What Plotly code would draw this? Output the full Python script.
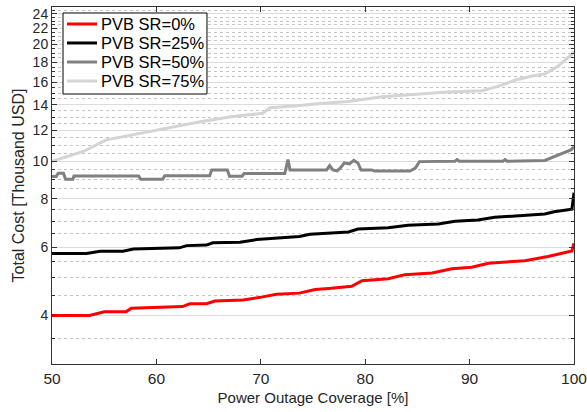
import plotly.graph_objects as go
import numpy as np

# Data
x_sr0 = [50, 53.6, 55.0, 57.1, 57.6, 62.5, 63.2, 64.8, 65.6, 68.3, 70.2, 71.5, 73.7, 75.2, 76.5,
         78.7, 79.7, 82.2, 83.8, 86.4, 88.3, 90.2, 91.8, 95.3, 97.5, 99.8, 100]
y_sr0 = [4.0, 4.0, 4.09, 4.09, 4.18, 4.22, 4.29, 4.29, 4.36, 4.39, 4.47, 4.54, 4.57, 4.67, 4.70,
         4.76, 4.92, 4.98, 5.10, 5.15, 5.28, 5.33, 5.46, 5.54, 5.68, 5.87, 6.15]

x_sr25 = [50, 53.3, 54.6, 56.8, 57.8, 62.2, 62.9, 64.8, 65.4, 68.0, 69.6, 72.1, 73.7, 74.7, 76.5,
          78.4, 79.3, 82.2, 84.1, 87.0, 88.6, 90.8, 92.4, 97.2, 98.1, 99.8, 100]
y_sr25 = [5.78, 5.78, 5.86, 5.86, 5.94, 5.98, 6.06, 6.08, 6.16, 6.18, 6.28, 6.35, 6.40, 6.48, 6.52,
          6.57, 6.69, 6.74, 6.84, 6.89, 7.0, 7.06, 7.17, 7.31, 7.41, 7.52, 8.3]

x_sr50 = [50, 50.4, 50.6, 51.1, 51.3, 52.0, 52.1, 58.3, 58.5, 60.6, 60.8, 65.1, 65.3, 66.8, 67.0,
          68.2, 68.4, 72.3, 72.6, 72.8, 76.3, 76.6, 76.9, 77.3, 77.6, 78.0, 78.5, 78.9, 79.3, 79.6,
          80.6, 80.9, 84.3, 84.8, 85.2, 88.6, 88.8, 89.0, 93.2, 93.4, 93.6, 97.2, 99.7, 100]
y_sr50 = [9.14, 9.14, 9.32, 9.32, 8.99, 8.99, 9.16, 9.16, 8.99, 8.99, 9.18, 9.18, 9.5, 9.5, 9.15,
          9.15, 9.3, 9.3, 10.1, 9.5, 9.5, 9.75, 9.5, 9.45, 9.6, 9.9, 9.85, 10.05, 9.9, 9.5,
          9.5, 9.44, 9.44, 9.6, 9.98, 10.0, 10.1, 10.0, 10.0, 10.1, 10.0, 10.05, 10.7, 10.9]

x_sr75 = [50, 51.5, 53.0, 55.2, 57.8, 61.0, 64.2, 67.3, 70.2, 70.9, 73.5, 75.7, 78.4, 81.6, 84.8,
          87.9, 91.2, 92.7, 94.4, 96.0, 97.2, 98.5, 99.8, 100]
y_sr75 = [10.0, 10.3, 10.6, 11.36, 11.73, 12.15, 12.65, 13.04, 13.3, 13.75, 13.9, 14.1, 14.27, 14.67, 14.9,
          15.1, 15.2, 15.6, 16.2, 16.6, 16.8, 17.6, 18.9, 19.2]

names = ["PVB SR=0%", "PVB SR=25%", "PVB SR=50%", "PVB SR=75%"]
colors = ["#ff0000", "#000000", "#808080", "#d4d4d4"]

y_major = [4, 6, 8, 10, 12, 14, 16, 18, 20, 22, 24]
y_minor = [v for v in np.arange(3.5, 25.01, 0.5) if v not in y_major]
x_ticks = [50, 60, 70, 80, 90, 100]

fig = go.Figure()
for xs, ys, nm, c in zip([x_sr0, x_sr25, x_sr50, x_sr75], [y_sr0, y_sr25, y_sr50, y_sr75], names, colors):
    fig.add_trace(go.Scatter(x=xs, y=ys, mode="lines", name=nm,
                             line=dict(color=c, width=3)))

# Legend drawn in the plot-area (paper) frame
L = dict(x0=0.0211, x1=0.2969, y0=0.7563, y1=0.9832)
row_y = [0.9524, 0.8992, 0.8459, 0.7927]
shapes = [dict(type="rect", xref="paper", yref="paper", x0=L["x0"], x1=L["x1"], y0=L["y0"], y1=L["y1"],
               line=dict(color="#000000", width=1), fillcolor="white", layer="above")]
annotations = []
for ry, nm, c in zip(row_y, names, colors):
    shapes.append(dict(type="line", xref="paper", yref="paper", x0=0.0287, x1=0.0862, y0=ry, y1=ry,
                       line=dict(color=c, width=3), layer="above"))
    annotations.append(dict(xref="paper", yref="paper", x=0.0900, y=ry, text=nm, showarrow=False,
                            xanchor="left", yanchor="middle",
                            font=dict(size=16.5, color="#000000")))

font_family = "Liberation Sans, Arial, sans-serif"
fig.update_layout(
    width=587, height=412,
    margin=dict(l=52, r=13, t=7, b=48, autoexpand=False),
    paper_bgcolor="white", plot_bgcolor="white",
    font=dict(family=font_family, size=15, color="#262626"),
    showlegend=False,
    shapes=shapes, annotations=annotations,
    xaxis=dict(range=[50, 100], tickvals=x_ticks, ticks="inside", ticklen=5,
               tickcolor="#333333", showline=True, linecolor="#333333", linewidth=1,
               mirror="ticks", showgrid=False, zeroline=False, automargin=False,
               ticklabeloverflow="allow",
               title=dict(text="Power Outage Coverage [%]", standoff=6,
                          font=dict(size=15, color="#262626")),
               tickfont=dict(size=15.5, color="#262626")),
    yaxis=dict(type="log", range=[np.log10(3), np.log10(25)], tickvals=y_major,
               ticktext=[str(v) for v in y_major], automargin=False,
               ticks="inside", ticklen=5, tickcolor="#333333",
               showline=True, linecolor="#333333", linewidth=1, mirror="ticks",
               showgrid=True, gridcolor="#dcdcdc", gridwidth=1, zeroline=False,
               minor=dict(tickmode="array", tickvals=y_minor, ticks="inside", ticklen=3,
                          tickcolor="#333333", showgrid=True, gridcolor="#c4c4c4",
                          griddash="dot", gridwidth=1),
               title=dict(text="Total Cost [Thousand USD]", standoff=4,
                          font=dict(size=16, color="#262626")),
               tickfont=dict(size=14, color="#262626")),
)

fig.write_html("out.html")
